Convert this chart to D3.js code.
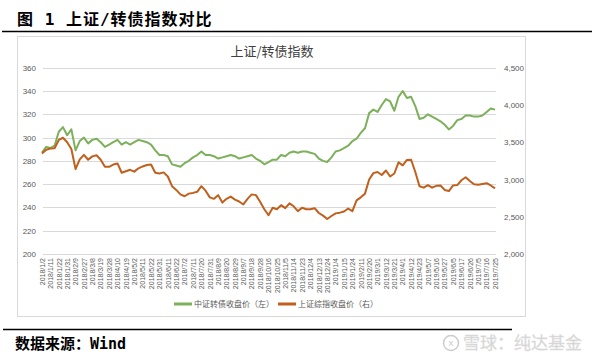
<!DOCTYPE html>
<html><head><meta charset="utf-8">
<script src="https://cdn.jsdelivr.net/npm/d3@7"></script>
<style>
html,body{margin:0;padding:0;background:#fff;}
svg{display:block;}
</style></head>
<body>
<svg id="c" width="595" height="356"></svg>
<script>
const dateLabels = ["2018/1/2","2018/1/11","2018/1/22","2018/1/31","2018/2/9","2018/2/27","2018/3/8","2018/3/19","2018/3/28","2018/4/10","2018/4/19","2018/5/2","2018/5/11","2018/5/22","2018/5/31","2018/6/11","2018/6/22","2018/7/2","2018/7/11","2018/7/20","2018/7/31","2018/8/9","2018/8/20","2018/8/29","2018/9/7","2018/9/18","2018/9/28","2018/10/16","2018/10/25","2018/11/5","2018/11/14","2018/11/23","2018/12/4","2018/12/13","2018/12/24","2019/1/4","2019/1/15","2019/1/24","2019/2/11","2019/2/20","2019/3/1","2019/3/12","2019/3/21","2019/4/1","2019/4/12","2019/4/23","2019/5/7","2019/5/16","2019/5/27","2019/6/5","2019/6/17","2019/6/26","2019/7/5","2019/7/16","2019/7/25"];

// 中证转债收盘价 (left axis), two samples per label interval
const bondClose = [287,292,291,293,305,309,302,307,289,297,300,295,298,299,296,292,294,296,298,294,296,294,296,298,297,296,294,289,285,285,284,277,276,275,278,280,283,285,288,285,285,284,282,283,284,285,284,282,283,284,285,282,280,277,279,281,281,285,284,287,288,287,288,288,287,286,282,280,279,283,288,289,291,293,297,299,304,308,321,324,322,328,333,331,323,335,340,334,335,327,316,317,320,318,316,314,311,307,310,315,316,319,319,318,318,319,322,325,324];

// 上证综指收盘价 (right axis)
const shClose = [3350,3400,3415,3420,3530,3560,3500,3410,3140,3270,3330,3265,3310,3325,3265,3170,3170,3200,3215,3090,3110,3130,3105,3150,3175,3195,3200,3090,3080,3095,3040,2910,2860,2800,2775,2810,2820,2835,2910,2850,2760,2740,2790,2690,2740,2770,2730,2705,2665,2740,2800,2790,2700,2600,2520,2620,2600,2655,2615,2680,2640,2575,2620,2600,2600,2615,2550,2515,2470,2510,2545,2555,2570,2610,2575,2720,2760,2810,3000,3085,3100,3060,3120,3040,3080,3230,3190,3263,3265,3100,2910,2890,2925,2890,2915,2920,2860,2845,2920,2925,2990,3030,2980,2935,2930,2940,2950,2920,2880];

const leftTicks = [200,220,240,260,280,300,320,340,360];
const rightTicks = [2000,2500,3000,3500,4000,4500];
const seriesNames = ["中证转债收盘价（左）","上证综指收盘价（右）"];
const colors = ["#7cb05a","#c0601c"];

const svg = d3.select("#c");
const cjk = "'Noto Sans CJK SC','Noto Sans',sans-serif";

// header
svg.append("text").attr("x",17).attr("y",25)
  .attr("font-family","'DejaVu Sans Mono','Noto Sans CJK SC',monospace")
  .attr("font-weight","bold").attr("font-size",16).attr("letter-spacing",1)
  .attr("fill","#000").text("图 1 上证/转债指数对比");
svg.append("line").attr("x1",2).attr("x2",592).attr("y1",31.5).attr("y2",31.5)
  .attr("stroke","#000").attr("stroke-width",1.5);

// chart box
svg.append("rect").attr("x",17.5).attr("y",36.5).attr("width",508).attr("height",280)
  .attr("fill","#fff").attr("stroke","#d9d9d9").attr("stroke-width",1);

svg.append("text").attr("x",272).attr("y",56).attr("text-anchor","middle")
  .attr("font-family",cjk).attr("font-size",13).attr("fill","#404040").text("上证/转债指数");

const x = d3.scaleLinear().domain([0, bondClose.length-1]).range([42,495]);
const yL = d3.scaleLinear().domain([200,360]).range([254,67.7]);
const yR = d3.scaleLinear().domain([2000,4500]).range([254,67.7]);

// gridlines
svg.append("g").selectAll("line").data(leftTicks).join("line")
  .attr("x1",43).attr("x2",496)
  .attr("y1",d=>Math.round(yL(d))+0.5).attr("y2",d=>Math.round(yL(d))+0.5)
  .attr("stroke","#d9d9d9").attr("stroke-width",1);

// left axis
const gl = svg.append("g").attr("transform","translate(38,0)")
  .call(d3.axisLeft(yL).tickValues(leftTicks).tickSize(0).tickPadding(2));
gl.select(".domain").remove();
gl.selectAll("text").attr("font-family","'Liberation Sans',Arial,sans-serif").attr("font-size",8).attr("fill","#595959");

// right axis
const gr = svg.append("g").attr("transform","translate(502,0)")
  .call(d3.axisRight(yR).tickValues(rightTicks).tickSize(0).tickPadding(2).tickFormat(d3.format(",")));
gr.select(".domain").remove();
gr.selectAll("text").attr("font-family","'Liberation Sans',Arial,sans-serif").attr("font-size",8).attr("fill","#595959");

// x axis
const tickIdx = dateLabels.map((d,i)=>i*2);
const gx = svg.append("g").attr("transform","translate(0,256)")
  .call(d3.axisBottom(x).tickValues(tickIdx).tickSize(0).tickPadding(0)
    .tickFormat(d=>dateLabels[d/2]));
gx.select(".domain").remove();
gx.selectAll("text")
  .attr("font-family","'Liberation Sans',Arial,sans-serif").attr("font-size",7).attr("fill","#595959")
  .attr("text-anchor","end").attr("dy","0.32em").attr("dx",0).attr("y",0)
  .attr("transform","rotate(-90) translate(-2,0)");

// lines
const lineL = d3.line().x((d,i)=>x(i)).y(d=>yL(d));
const lineR = d3.line().x((d,i)=>x(i)).y(d=>yR(d));
svg.append("path").datum(bondClose).attr("d",lineL).attr("fill","none")
  .attr("stroke",colors[0]).attr("stroke-width",2).attr("stroke-linejoin","round");
svg.append("path").datum(shClose).attr("d",lineR).attr("fill","none")
  .attr("stroke",colors[1]).attr("stroke-width",2).attr("stroke-linejoin","round");

// legend
const legX = [174,278];
const lg = svg.append("g").selectAll("g").data(seriesNames).join("g")
  .attr("transform",(d,i)=>`translate(${legX[i]},304)`);
lg.append("line").attr("x1",0).attr("x2",18).attr("y1",0).attr("y2",0)
  .attr("stroke",(d,i)=>colors[i]).attr("stroke-width",3);
lg.append("text").attr("x",20).attr("y",0).attr("dy","0.35em")
  .attr("font-family",cjk).attr("font-size",8).attr("fill","#595959").text(d=>d);

// footer
svg.append("line").attr("x1",3).attr("x2",512).attr("y1",329.5).attr("y2",329.5)
  .attr("stroke","#000").attr("stroke-width",1.5);
svg.append("text").attr("x",15).attr("y",349)
  .attr("font-family","'DejaVu Sans Mono','Noto Sans CJK SC',monospace")
  .attr("font-weight","bold").attr("font-size",15).attr("fill","#000").text("数据来源：Wind");

// watermark
const wm = svg.append("g").attr("opacity",0.9);
wm.append("circle").attr("cx",451).attr("cy",343).attr("r",7.5)
  .attr("fill","none").attr("stroke","#c8c8c8").attr("stroke-width",1.5);
wm.append("text").attr("x",451).attr("y",343).attr("dy","0.35em").attr("text-anchor","middle")
  .attr("font-family","'DejaVu Sans'").attr("font-size",9).attr("fill","#c8c8c8").text("ⓧ".length?"x":"");
wm.append("text").attr("x",463).attr("y",349)
  .attr("font-family",cjk).attr("font-size",17).attr("fill","#cfcfcf")
  .attr("stroke","#e0e0e0").attr("stroke-width",0.3).text("雪球：纯达基金");
</script>
</body></html>
